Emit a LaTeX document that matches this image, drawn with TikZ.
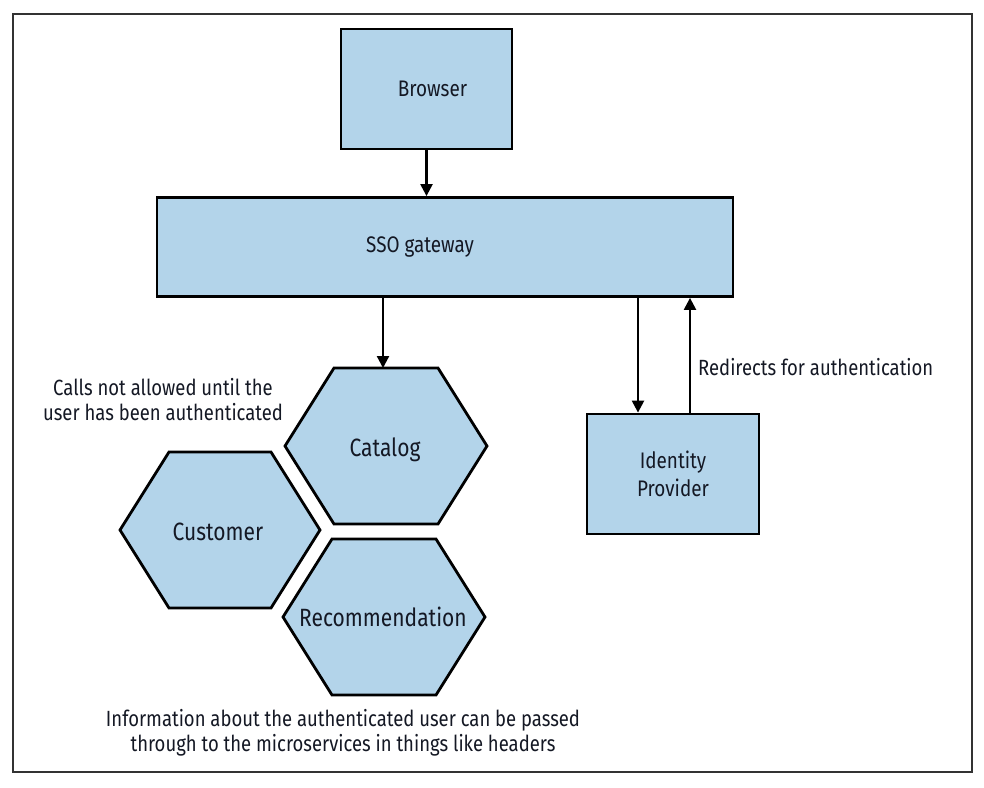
\documentclass[tikz,border=0pt]{standalone}
\usepackage{fontspec}
\setmainfont{Fira Sans}[FakeStretch=0.84]
\usetikzlibrary{arrows.meta}
\definecolor{boxblue}{RGB}{179,212,234}
\definecolor{framegray}{RGB}{50,50,50}
\definecolor{inkdark}{RGB}{20,24,36}
\tikzset{
  boxnode/.style={draw=black, fill=boxblue, line width=2.8pt, inner sep=0pt, align=center,
    text=inkdark, font=\fontsize{22.5}{28}\selectfont},
  hexshape/.style={draw=black, fill=boxblue, line width=2.8pt, line join=miter},
  hexlabel/.style={inner sep=0pt, text=inkdark, font=\fontsize{25}{28}\selectfont},
  note/.style={inner sep=0pt, align=center, text=inkdark, font=\fontsize{22}{25}\selectfont},
  arr/.style={line width=2.3pt, -{Triangle[length=12pt,width=12pt]}},
  frameline/.style={draw=framegray, line width=1.5pt}
}
\begin{document}
\begin{tikzpicture}[x=1pt,y=-1pt]
\useasboundingbox (0,0) rectangle (984,787);
\fill[white] (0,0) rectangle (984,787);
\draw[frameline] (13,14) rectangle (972,772);

% boxes
\node[boxnode, minimum width=171pt, minimum height=120pt] (browser) at (426.5,89) {\hspace*{12pt}Browser};
\node[boxnode, minimum width=576pt, minimum height=99pt] (sso) at (445,247) {SSO gateway\hspace*{50pt}};
\node[boxnode, minimum width=172pt, minimum height=120pt] (idp) at (673,474) {Identity\\Provider};

% hexagons
\draw[hexshape, shift={(386,446)}] (-101,0) -- (-52,-78) -- (52,-78) -- (101,0) -- (52,78) -- (-52,78) -- cycle;
\draw[hexshape, shift={(220,530)}] (-100,0) -- (-51,-78) -- (51,-78) -- (100,0) -- (51,78) -- (-51,78) -- cycle;
\draw[hexshape, shift={(384,617)}] (-101,0) -- (-52,-78) -- (52,-78) -- (101,0) -- (52,78) -- (-52,78) -- cycle;
\node[hexlabel] (catalog) at (385,450) {Catalog};
\node[hexlabel] (customer) at (218,532) {Customer};
\node[hexlabel] (recommendation) at (383,617) {Recommendation};
\coordinate (cattop) at (383,368);

% connectors
\draw[arr] (browser.south) -- (browser.south |- sso.north);
\draw[arr] (sso.south -| cattop) -- (cattop);
\coordinate (idpin) at (638,0);
\coordinate (idpout) at (690,0);
\draw[arr] (sso.south -| idpin) -- (idp.north -| idpin);
\draw[arr] (idp.north -| idpout) -- (sso.south -| idpout);

% notes
\node[note, anchor=west] (redirect) at (698,367) {Redirects for authentication};
\node[note] (calls) at (163,399.5) {Calls not allowed until the\\user has been authenticated};
\node[note] (info) at (343,732.5) {Information about the authenticated user can be passed\\through to the microservices in things like headers};
\end{tikzpicture}
\end{document}
